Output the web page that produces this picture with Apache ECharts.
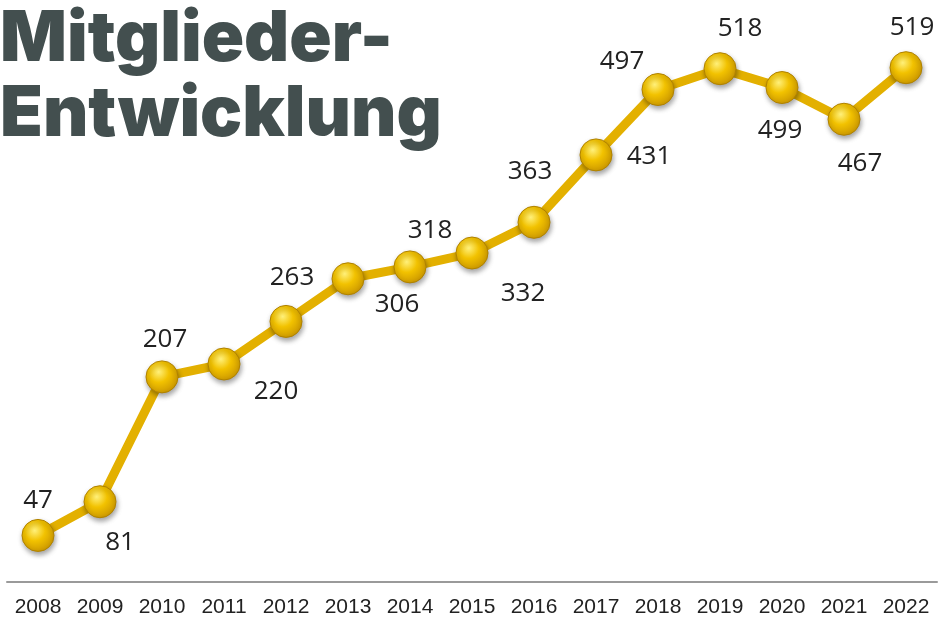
<!DOCTYPE html>
<html><head><meta charset="utf-8">
<script src="https://cdn.jsdelivr.net/npm/echarts@6/dist/echarts.min.js"></script>
<style>html,body{margin:0;padding:0;background:#fff}#c{width:940px;height:620px}</style>
</head><body><div id="c"></div>
<script>
var years = ['2008','2009','2010','2011','2012','2013','2014','2015','2016','2017','2018','2019','2020','2021','2022'];
var members = [47,81,207,220,263,306,318,332,363,431,497,518,499,467,519];
var labelOffsets = [[0,-35],[20,41],[3,-37],[52,28],[6,-44],[49,26],[20,-36],[51,41],[-4,-51],[53,2],[-36,-28],[20,-40],[-2,43],[16,44],[6,-40]];
var titleLines = ['Mitglieder-','Entwicklung'];

var chart = echarts.init(document.getElementById('c'), null, {renderer:'canvas'});
var marker = {
  color: new echarts.graphic.RadialGradient(0.4,0.35,0.7,[
    {offset:0,color:'#FFF07A'},{offset:0.45,color:'#F2C200'},{offset:1,color:'#C89400'}]),
  borderColor:'#B08200', borderWidth:1,
  shadowColor:'rgba(0,0,0,0.35)', shadowBlur:5, shadowOffsetX:1, shadowOffsetY:3
};
chart.setOption({
  animation:false,
  backgroundColor:'#fff',
  title:{
    text: titleLines.join('\n'), left:-5, top:-3,
    textStyle:{fontFamily:'Inter', fontWeight:900, fontSize:70, color:'#434F4F', lineHeight:75}
  },
  grid:{left:7, right:3, top:37, bottom:38},
  xAxis:{type:'category', data:years, boundaryGap:true,
    axisLine:{lineStyle:{color:'#9a9a9a', width:2}}, axisTick:{show:false},
    axisLabel:{fontFamily:'Liberation Sans', fontSize:21, color:'#222', margin:15}},
  yAxis:{type:'value', min:0, max:550, show:false, splitLine:{show:false}},
  series:[{
    type:'line', data: members.map(function(v,i){
      return {value:v, label:{offset:labelOffsets[i]}};
    }),
    lineStyle:{color:'#E3B000', width:9},
    symbol:'circle', symbolSize:32, itemStyle:marker,
    label:{show:true, position:'inside', fontFamily:'Open Sans', fontSize:26, color:'#222'}
  }]
});
</script></body></html>
